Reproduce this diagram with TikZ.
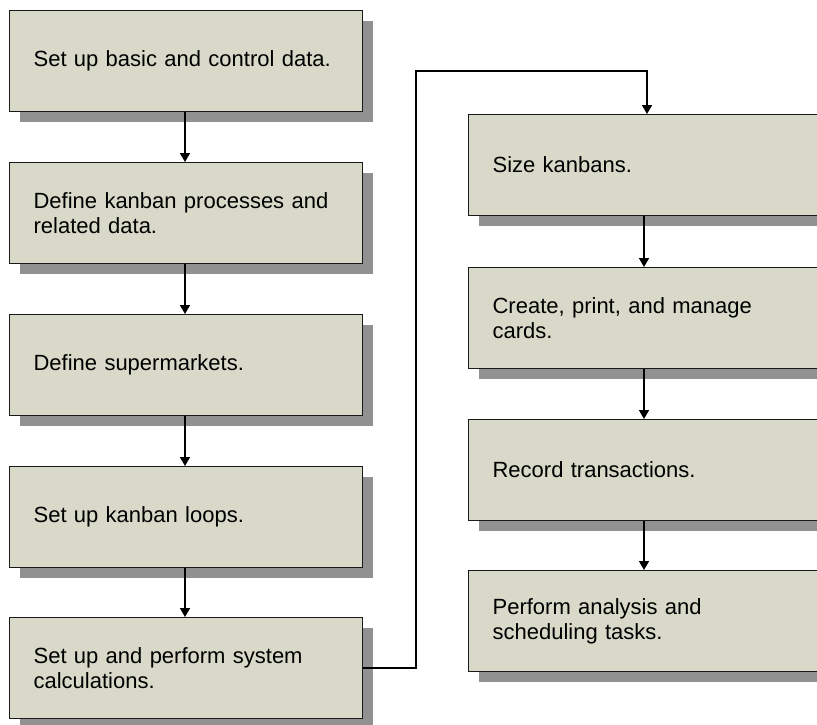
\documentclass[tikz,border=0pt]{standalone}
\usepackage{fontspec}
\setmainfont{Liberation Sans}
\usetikzlibrary{arrows.meta,shadows}
\definecolor{boxfill}{HTML}{D8D9C8}
\definecolor{shadowc}{HTML}{919191}
\definecolor{linec}{HTML}{1A1A1A}
\tikzset{
  stepbox/.style={draw=linec, line width=1.2pt, fill=boxfill, rectangle, anchor=north west,
    minimum height=101pt, inner xsep=24pt, inner ysep=0pt, align=left,
    font=\fontsize{22pt}{25pt}\selectfont,
    drop shadow={shadow xshift=10pt, shadow yshift=-10pt, fill=shadowc, opacity=1}},
  leftbox/.style={stepbox, minimum width=353pt, text width=305pt},
  rightbox/.style={stepbox, minimum width=420pt, text width=372pt},
  arr/.style={draw=black, line width=1.6pt, -{Triangle[width=10pt,length=9pt]}},
}
\begin{document}
\begin{tikzpicture}[x=1pt,y=-1pt]
\useasboundingbox (0,0) rectangle (817,724);
\clip (0,0) rectangle (817,724);
\node[leftbox] (b1) at (9,10) {Set up basic and control data.};
\node[leftbox] (b2) at (9,162) {Define kanban processes and\\related data.};
\node[leftbox] (b3) at (9,314) {Define supermarkets.};
\node[leftbox] (b4) at (9,466) {Set up kanban loops.};
\node[leftbox] (b5) at (9,617) {Set up and perform system\\calculations.};
\node[rightbox] (b6) at (468,114) {Size kanbans.};
\node[rightbox] (b7) at (468,267) {Create, print, and manage\\cards.};
\node[rightbox] (b8) at (468,419) {Record transactions.};
\node[rightbox] (b9) at (468,570) {Perform analysis and\\scheduling tasks.};
\coordinate (lx) at (185,0);
\coordinate (rx) at (644,0);
\coordinate (c1) at (416,71);
\coordinate (c2) at (647,71);
\draw[arr] (b1.south -| lx) -- (b2.north -| lx);
\draw[arr] (b2.south -| lx) -- (b3.north -| lx);
\draw[arr] (b3.south -| lx) -- (b4.north -| lx);
\draw[arr] (b4.south -| lx) -- (b5.north -| lx);
\draw[arr] (b5.east) -| (c1) -- (c2) -- (b6.north -| c2);
\draw[arr] (b6.south -| rx) -- (b7.north -| rx);
\draw[arr] (b7.south -| rx) -- (b8.north -| rx);
\draw[arr] (b8.south -| rx) -- (b9.north -| rx);
\end{tikzpicture}
\end{document}
